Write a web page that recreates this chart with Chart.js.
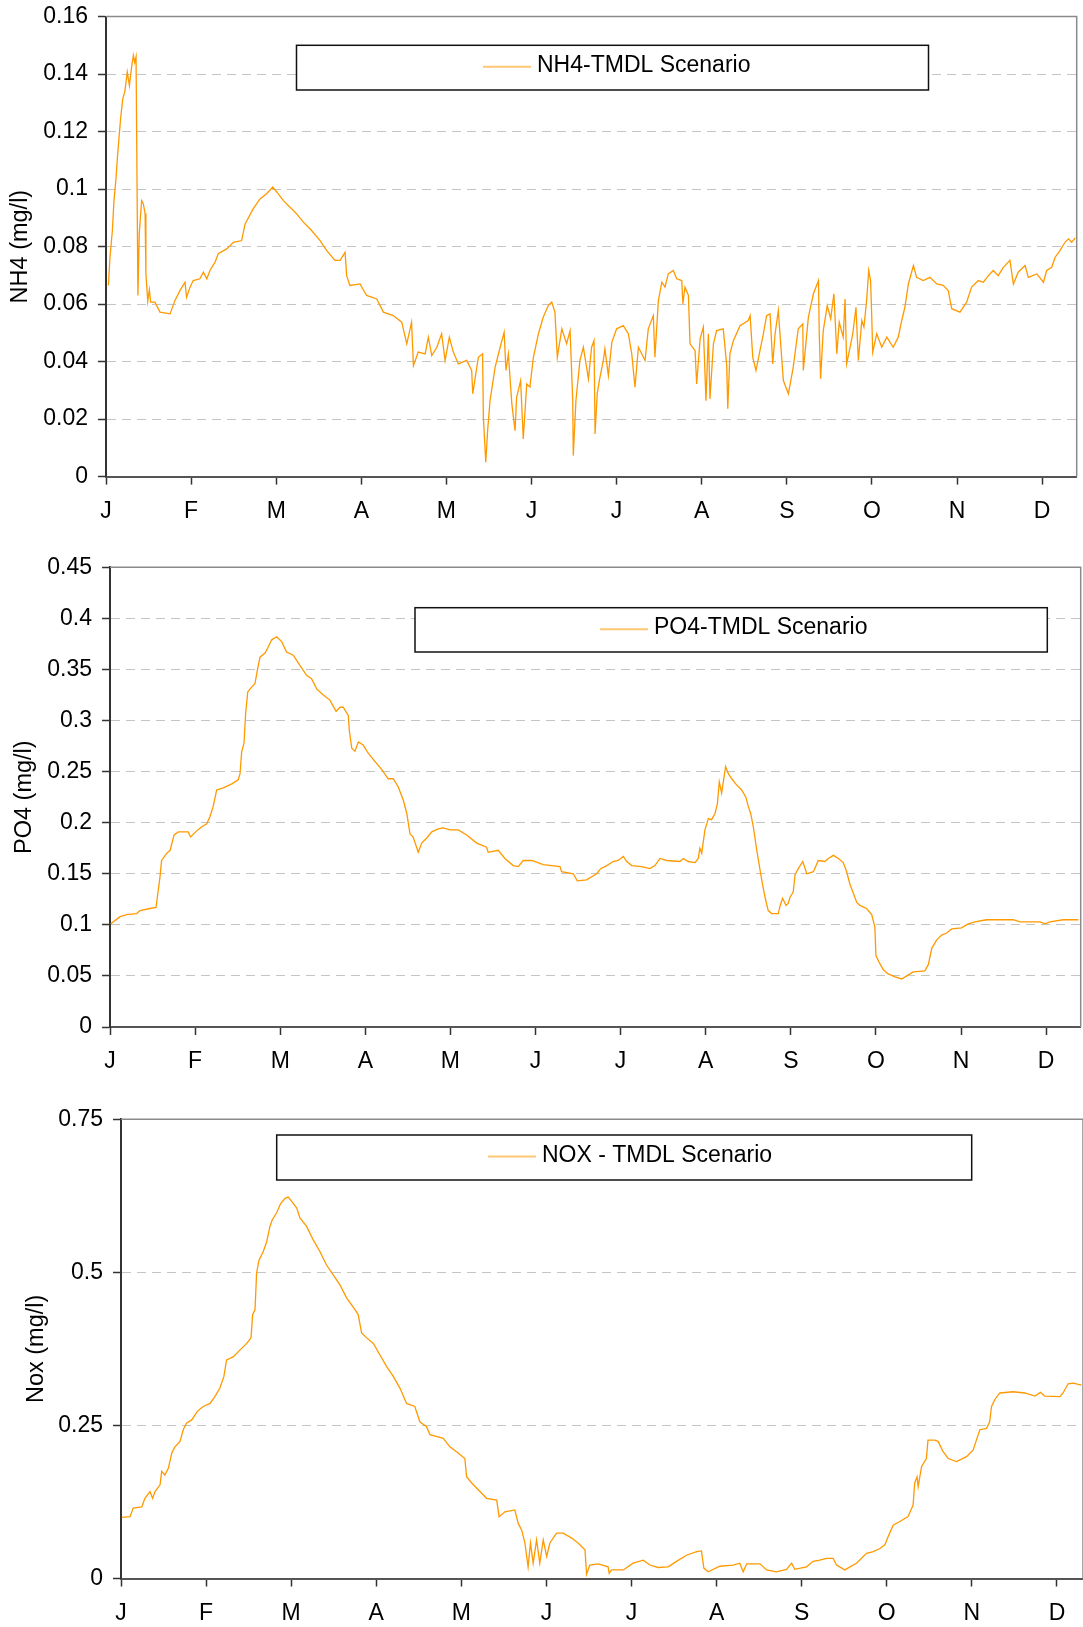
<!DOCTYPE html>
<html>
<head>
<meta charset="utf-8">
<script src="https://cdn.jsdelivr.net/npm/chart.js@4.4.1/dist/chart.umd.min.js"></script>
<style>
    html, body { margin: 0; padding: 0; background: #fff; }
    body { width: 1083px; height: 1627px; position: relative; overflow: hidden; }
    canvas { position: absolute; left: 0; }
</style>
</head>
<body>
<canvas id="chartNH4" width="1083" height="530" style="top:0"></canvas>
<canvas id="chartPO4" width="1083" height="545" style="top:535px"></canvas>
<canvas id="chartNOX" width="1083" height="537" style="top:1090px"></canvas>
<script>
// month ticks (one label every 32 days, as in the original workbook axis)
const MONTH_LABELS = ["J", "F", "M", "A", "M", "J", "J", "A", "S", "O", "N", "D"];
const MONTH_TICK_DAYS = [0, 32, 64, 96, 128, 160, 192, 224, 256, 288, 320, 352];

// NH4 (mg/l)
const NH4_TICKS = [0, 0.02, 0.04, 0.06, 0.08, 0.1, 0.12, 0.14, 0.16];
const NH4_DAYS = [0.9, 1.5, 2.4, 3.0, 3.7, 4.3, 4.9, 5.5, 6.3, 7.1,
    8.0, 8.8, 9.7, 10.3, 10.8, 11.3, 12.0, 12.5, 13.4, 14.0,
    14.7, 15.0, 15.7, 16.3, 16.8, 18.4, 20.3, 24.1, 25.9, 27.8,
    29.7, 30.3, 31.6, 32.8, 35.3, 36.6, 37.9, 39.1, 41.0, 42.2,
    45.4, 47.9, 51.0, 52.3, 55.4, 57.9, 60.4, 62.7, 64.2, 66.7,
    69.2, 71.7, 74.2, 77.3, 80.5, 83.0, 86.1, 88.0, 89.9, 90.5,
    91.7, 95.5, 98.0, 101.8, 104.3, 108.0, 111.2, 113.1, 114.9, 115.6,
    117.4, 120.0, 121.2, 122.5, 124.4, 126.2, 127.5, 129.1, 130.6, 132.5,
    135.6, 137.5, 137.9, 140.0, 141.6, 141.9, 142.8, 143.5, 144.4, 146.3,
    148.2, 149.7, 150.4, 151.3, 152.6, 153.8, 154.4, 155.9, 156.9, 158.2,
    159.4, 160.7, 162.6, 164.4, 166.3, 167.6, 168.8, 169.7, 171.4, 173.2,
    174.5, 175.5, 175.7, 176.7, 178.2, 179.5, 181.4, 182.6, 183.5, 183.9,
    184.7, 185.5, 187.0, 187.6, 188.9, 190.2, 192.0, 194.5, 196.4, 197.7,
    198.9, 200.2, 202.7, 203.9, 205.8, 206.4, 207.7, 209.0, 210.2, 211.4,
    213.3, 214.6, 216.5, 216.9, 217.7, 219.0, 219.6, 221.5, 222.1, 223.4,
    224.6, 225.6, 226.5, 227.1, 228.4, 229.6, 232.1, 233.4, 233.8, 234.6,
    235.9, 238.4, 241.5, 242.2, 243.2, 244.4, 245.9, 247.2, 248.4, 249.7,
    250.7, 251.6, 252.8, 254.1, 254.7, 256.6, 258.4, 260.3, 262.0, 262.2,
    264.1, 266.0, 267.9, 268.2, 268.7, 269.7, 271.2, 272.5, 273.7, 274.8,
    275.7, 277.2, 277.9, 278.5, 279.8, 280.8, 282.0, 282.9, 284.2, 285.0,
    286.0, 286.8, 287.5, 287.9, 288.3, 289.8, 291.7, 293.6, 296.0, 297.9,
    299.2, 300.4, 301.7, 303.6, 304.8, 307.3, 309.8, 312.4, 314.8, 316.7,
    318.0, 321.1, 323.6, 325.5, 328.0, 329.9, 331.8, 333.6, 335.5, 337.4,
    339.9, 341.2, 343.0, 345.6, 346.8, 350.0, 352.5, 353.7, 355.6, 356.9,
    358.7, 360.6, 361.9, 363.1, 364.4];
const NH4_VALUES = [0.0665, 0.0763, 0.0856, 0.096, 0.103, 0.111, 0.118, 0.1246, 0.1314, 0.134,
    0.1407, 0.136, 0.143, 0.1465, 0.144, 0.146, 0.063, 0.0845, 0.096, 0.095,
    0.0915, 0.0706, 0.061, 0.065, 0.0607, 0.0607, 0.0572, 0.0566, 0.0612, 0.0647,
    0.0676, 0.0624, 0.0659, 0.0682, 0.0688, 0.0711, 0.0688, 0.0717, 0.0746, 0.0775,
    0.0792, 0.0815, 0.0821, 0.0879, 0.0932, 0.0966, 0.0984, 0.1007, 0.099, 0.096,
    0.0937, 0.0914, 0.0885, 0.0856, 0.0821, 0.0786, 0.0752, 0.0752, 0.078, 0.0699,
    0.0665, 0.067, 0.063, 0.0618, 0.0572, 0.056, 0.0537, 0.0462, 0.0537, 0.0386,
    0.0433, 0.0427, 0.0485, 0.0421, 0.045, 0.0497, 0.0404, 0.0485, 0.0433, 0.0392,
    0.0404, 0.0369, 0.0288, 0.0415, 0.0427, 0.0206, 0.005, 0.016, 0.0264, 0.038,
    0.045, 0.0502, 0.0369, 0.0427, 0.0253, 0.016, 0.0276, 0.0334, 0.0131, 0.0322,
    0.0311, 0.0415, 0.0497, 0.0554, 0.0595, 0.0607, 0.0572, 0.0415, 0.0514, 0.0462,
    0.0508, 0.0264, 0.0073, 0.0264, 0.0404, 0.045, 0.034, 0.045, 0.0473, 0.0148,
    0.0288, 0.0334, 0.0404, 0.0444, 0.0351, 0.0467, 0.0514, 0.0525, 0.0497, 0.0427,
    0.0311, 0.045, 0.0404, 0.0514, 0.056, 0.0415, 0.0612, 0.0676, 0.0659, 0.0705,
    0.0717, 0.0688, 0.0682, 0.0601, 0.0659, 0.063, 0.0462, 0.0438, 0.0322, 0.0479,
    0.052, 0.0264, 0.0497, 0.027, 0.0462, 0.0508, 0.0514, 0.0386, 0.0236, 0.0427,
    0.0473, 0.0525, 0.0543, 0.056, 0.0415, 0.0369, 0.0438, 0.0497, 0.056, 0.0566,
    0.0392, 0.0497, 0.0578, 0.041, 0.0334, 0.0288, 0.038, 0.0514, 0.0531, 0.0369,
    0.0554, 0.0636, 0.0682, 0.0497, 0.034, 0.0508, 0.0595, 0.0549, 0.0636, 0.0427,
    0.0537, 0.0485, 0.0618, 0.0392, 0.045, 0.0497, 0.0589, 0.0404, 0.0543, 0.052,
    0.0612, 0.0717, 0.0682, 0.0566, 0.0433, 0.0497, 0.045, 0.0485, 0.045, 0.0485,
    0.0543, 0.0589, 0.067, 0.0734, 0.0693, 0.0682, 0.0693, 0.067, 0.0665, 0.0647,
    0.0584, 0.0572, 0.0607, 0.0659, 0.0682, 0.0676, 0.0699, 0.0717, 0.0699, 0.0728,
    0.0752, 0.067, 0.0711, 0.0734, 0.0693, 0.0705, 0.0676, 0.0717, 0.0728, 0.0763,
    0.0786, 0.0815, 0.0827, 0.0815, 0.083];

// PO4 (mg/l)
const PO4_TICKS = [0, 0.05, 0.1, 0.15, 0.2, 0.25, 0.3, 0.35, 0.4, 0.45];
const PO4_DAYS = [0.3, 3.8, 6.3, 10.0, 11.3, 15.0, 17.3, 17.8, 18.8, 19.4,
    21.3, 22.6, 24.1, 25.7, 29.4, 30.3, 32.6, 34.5, 36.4, 37.6,
    38.8, 40.1, 42.6, 45.8, 48.2, 48.9, 49.5, 50.4, 51.0, 51.8,
    53.3, 54.5, 55.4, 56.4, 58.3, 59.5, 60.8, 62.7, 64.6, 66.4,
    68.9, 71.4, 74.0, 75.8, 77.7, 80.2, 82.7, 85.0, 86.5, 87.7,
    89.6, 90.0, 90.9, 92.1, 93.4, 95.2, 97.1, 99.6, 102.2, 104.6,
    106.5, 108.4, 110.3, 111.6, 112.8, 114.0, 115.9, 117.2, 119.1, 121.0,
    123.4, 125.3, 127.8, 131.0, 134.1, 137.9, 141.6, 142.2, 146.0, 148.5,
    151.6, 153.5, 155.4, 158.6, 162.9, 169.2, 169.8, 174.2, 175.7, 179.2,
    183.0, 184.5, 186.8, 189.2, 191.1, 193.0, 194.3, 196.2, 199.9, 203.0,
    204.9, 206.8, 209.3, 214.3, 215.6, 217.4, 220.0, 221.2, 221.8, 222.5,
    223.7, 225.0, 226.2, 227.5, 228.4, 229.1, 230.0, 230.9, 231.5, 232.5,
    233.8, 235.6, 237.5, 239.1, 240.0, 240.9, 241.9, 243.2, 244.4, 245.4,
    246.3, 247.5, 248.8, 251.3, 251.9, 252.9, 254.2, 255.0, 255.7, 256.9,
    257.6, 258.8, 260.5, 262.0, 264.5, 266.3, 268.8, 270.1, 272.0, 273.9,
    275.7, 277.0, 278.2, 279.5, 280.8, 282.0, 284.5, 286.4, 287.6, 288.0,
    289.5, 290.8, 292.6, 295.2, 297.7, 300.2, 302.0, 306.4, 307.7, 309.0,
    310.8, 312.7, 314.6, 316.5, 320.2, 322.7, 325.2, 329.6, 339.6, 342.2,
    349.7, 351.6, 353.4, 358.4, 364.1];
const PO4_VALUES = [0.101, 0.108, 0.11, 0.111, 0.114, 0.116, 0.117, 0.127, 0.147, 0.163,
    0.17, 0.173, 0.188, 0.191, 0.191, 0.186, 0.192, 0.196, 0.199, 0.206,
    0.216, 0.232, 0.234, 0.238, 0.242, 0.248, 0.269, 0.278, 0.307, 0.328,
    0.333, 0.336, 0.349, 0.362, 0.366, 0.372, 0.379, 0.382, 0.377, 0.367,
    0.364, 0.354, 0.344, 0.341, 0.331, 0.325, 0.32, 0.309, 0.313, 0.313,
    0.305, 0.29, 0.273, 0.27, 0.279, 0.276, 0.268, 0.26, 0.252, 0.243,
    0.243, 0.235, 0.222, 0.209, 0.189, 0.186, 0.171, 0.18, 0.185, 0.191,
    0.194, 0.195, 0.193, 0.193, 0.188, 0.18, 0.176, 0.171, 0.173, 0.165,
    0.158, 0.157, 0.163, 0.163, 0.159, 0.157, 0.152, 0.15, 0.143, 0.144,
    0.15, 0.155, 0.158, 0.162, 0.163, 0.167, 0.162, 0.158, 0.157, 0.155,
    0.158, 0.165, 0.163, 0.162, 0.165, 0.162, 0.161, 0.165, 0.175, 0.17,
    0.193, 0.204, 0.203, 0.209, 0.219, 0.24, 0.229, 0.245, 0.255, 0.248,
    0.243, 0.237, 0.232, 0.225, 0.216, 0.209, 0.196, 0.173, 0.154, 0.139,
    0.127, 0.114, 0.111, 0.111, 0.118, 0.126, 0.119, 0.121, 0.127, 0.132,
    0.149, 0.155, 0.162, 0.15, 0.152, 0.163, 0.162, 0.165, 0.168, 0.165,
    0.161, 0.152, 0.14, 0.131, 0.122, 0.119, 0.116, 0.11, 0.098, 0.07,
    0.062, 0.056, 0.052, 0.049, 0.047, 0.051, 0.054, 0.055, 0.061, 0.077,
    0.085, 0.09, 0.092, 0.096, 0.097, 0.101, 0.103, 0.105, 0.105, 0.103,
    0.103, 0.101, 0.103, 0.105, 0.105];

// NOX (mg/l)
const NOX_TICKS = [0, 0.25, 0.5, 0.75];
const NOX_DAYS = [0.3, 3.4, 4.6, 7.8, 9.0, 10.9, 11.9, 12.8, 14.7, 15.3,
    16.5, 17.8, 19.1, 20.3, 22.2, 23.4, 24.7, 26.6, 28.7, 30.9,
    33.5, 35.3, 37.2, 38.7, 39.7, 42.2, 44.7, 47.3, 48.9, 49.5,
    50.4, 51.0, 51.9, 53.5, 54.8, 56.0, 56.9, 58.5, 60.0, 61.7,
    62.9, 64.2, 66.1, 67.3, 69.8, 72.3, 74.8, 77.3, 79.8, 82.3,
    84.9, 88.0, 89.2, 90.5, 92.4, 94.9, 97.4, 99.9, 102.4, 104.9,
    107.4, 110.5, 112.4, 114.9, 116.2, 121.2, 123.7, 126.8, 129.3, 130.0,
    131.9, 135.0, 137.5, 141.3, 142.2, 144.4, 148.1, 149.4, 150.7, 151.9,
    153.1, 154.0, 155.0, 156.3, 157.5, 158.8, 160.1, 161.3, 163.8, 166.3,
    169.5, 171.9, 174.5, 175.1, 176.3, 179.5, 183.2, 183.6, 184.5, 188.9,
    192.6, 196.4, 198.9, 202.0, 205.8, 208.9, 212.7, 216.5, 218.3, 219.2,
    220.8, 225.2, 230.2, 232.7, 234.0, 235.3, 240.3, 242.8, 246.5, 250.3,
    252.2, 253.4, 257.8, 260.3, 262.8, 265.3, 267.8, 269.1, 272.2, 276.6,
    280.4, 282.9, 285.4, 287.3, 288.5, 290.4, 292.9, 296.0, 297.9, 298.5,
    299.4, 299.8, 301.1, 302.9, 303.5, 306.1, 307.3, 309.2, 311.1, 314.2,
    318.0, 320.5, 321.7, 323.0, 325.5, 326.7, 327.4, 328.6, 330.5, 335.5,
    339.9, 343.7, 345.8, 347.4, 353.1, 354.3, 356.2, 358.1, 361.2];
const NOX_VALUES = [0.1, 0.101, 0.115, 0.117, 0.131, 0.142, 0.131, 0.142, 0.153, 0.175,
    0.169, 0.18, 0.205, 0.215, 0.224, 0.243, 0.254, 0.259, 0.273, 0.281,
    0.286, 0.297, 0.311, 0.33, 0.357, 0.362, 0.373, 0.384, 0.393, 0.431,
    0.439, 0.499, 0.52, 0.534, 0.55, 0.575, 0.586, 0.597, 0.612, 0.621,
    0.623, 0.616, 0.605, 0.589, 0.575, 0.553, 0.534, 0.512, 0.496, 0.48,
    0.458, 0.439, 0.431, 0.401, 0.393, 0.384, 0.365, 0.346, 0.33, 0.311,
    0.286, 0.281, 0.256, 0.248, 0.235, 0.229, 0.215, 0.205, 0.196, 0.166,
    0.156, 0.142, 0.131, 0.128, 0.101, 0.109, 0.112, 0.09, 0.079, 0.058,
    0.019, 0.058, 0.025, 0.063, 0.025, 0.063, 0.036, 0.058, 0.074, 0.074,
    0.066, 0.058, 0.047, 0.007, 0.022, 0.024, 0.019, 0.0085, 0.014, 0.014,
    0.025, 0.03, 0.022, 0.018, 0.019, 0.028, 0.038, 0.044, 0.045, 0.017,
    0.011, 0.02, 0.022, 0.025, 0.011, 0.024, 0.024, 0.014, 0.011, 0.015,
    0.025, 0.015, 0.019, 0.028, 0.03, 0.033, 0.033, 0.022, 0.014, 0.025,
    0.041, 0.044, 0.049, 0.055, 0.068, 0.087, 0.093, 0.101, 0.12, 0.156,
    0.166, 0.15, 0.183, 0.196, 0.226, 0.226, 0.224, 0.207, 0.196, 0.191,
    0.199, 0.21, 0.226, 0.243, 0.245, 0.256, 0.281, 0.292, 0.303, 0.305,
    0.303, 0.298, 0.304, 0.298, 0.297, 0.303, 0.318, 0.319, 0.316];

const LINE_COLOR = "#FF9900";
const FONT_FAMILY = "'Liberation Sans', Arial, Helvetica, sans-serif";

Chart.defaults.font.family = FONT_FAMILY;
Chart.defaults.color = "#000";

// grey frame on the top and right of the plot area
const plotFrame = {
    id: "plotFrame",
    beforeDatasetsDraw(chart) {
        const {ctx, chartArea: a} = chart;
        ctx.save();
        ctx.strokeStyle = "#8a8a8a";
        ctx.lineWidth = 1.5;
        ctx.beginPath();
        ctx.moveTo(a.left, a.top);
        ctx.lineTo(a.right, a.top);
        ctx.lineTo(a.right, a.bottom);
        ctx.stroke();
        ctx.restore();
    }
};

// boxed legend sitting inside the plot
const boxLegend = {
    id: "boxLegend",
    afterDraw(chart, args, opts) {
        const {ctx} = chart;
        const label = chart.data.datasets[0].label;
        ctx.save();
        ctx.fillStyle = "#fff";
        ctx.fillRect(opts.x, opts.y, opts.w, opts.h);
        ctx.strokeStyle = "#111";
        ctx.lineWidth = 1.5;
        ctx.strokeRect(opts.x, opts.y, opts.w, opts.h);
        ctx.strokeStyle = "rgba(255,153,0,0.55)";
        ctx.lineWidth = 2;
        ctx.beginPath();
        ctx.moveTo(opts.lineX, opts.y + 21.5);
        ctx.lineTo(opts.lineX + 48, opts.y + 21.5);
        ctx.stroke();
        ctx.fillStyle = "#000";
        ctx.font = "23px " + FONT_FAMILY;
        ctx.textBaseline = "alphabetic";
        ctx.textAlign = "left";
        ctx.fillText(label, opts.lineX + 54, opts.y + 26.5);
        ctx.restore();
    }
};

function makeChart(id, c) {
    const points = c.days.map((d, i) => ({x: d, y: c.values[i]}));
    return new Chart(document.getElementById(id), {
        type: "line",
        data: {
            datasets: [{
                label: c.label,
                data: points,
                borderColor: LINE_COLOR,
                borderWidth: 1.3,
                pointRadius: 0,
                tension: 0,
                fill: false
            }]
        },
        plugins: [plotFrame, boxLegend],
        options: {
            responsive: false,
            animation: false,
            devicePixelRatio: 1,
            layout: {padding: {top: c.padTop, right: c.padRight, left: 0, bottom: 0}},
            plugins: {
                legend: {display: false},
                tooltip: {enabled: false},
                boxLegend: c.legend
            },
            scales: {
                x: {
                    type: "linear",
                    min: 0,
                    max: c.xMax,
                    afterBuildTicks: (scale) => {
                        scale.ticks = MONTH_TICK_DAYS.map(v => ({value: v}));
                    },
                    afterFit: (scale) => {
                        scale.height = c.xHeight;
                        scale.paddingLeft = 0;
                        scale.paddingRight = 0;
                    },
                    ticks: {
                        autoSkip: false,
                        maxRotation: 0,
                        padding: 13,
                        font: {size: 23},
                        callback: (value, index) => MONTH_LABELS[index]
                    },
                    grid: {
                        drawOnChartArea: false,
                        drawTicks: true,
                        tickLength: 8,
                        tickColor: "#333",
                        tickWidth: 1.5
                    },
                    border: {display: true, color: "#555", width: 2}
                },
                y: {
                    type: "linear",
                    min: 0,
                    max: c.yTicks[c.yTicks.length - 1],
                    afterBuildTicks: (scale) => {
                        scale.ticks = c.yTicks.map(v => ({value: v}));
                    },
                    afterFit: (scale) => {
                        scale.width = c.axisLeft;
                        scale.paddingTop = 0;
                        scale.paddingBottom = 0;
                    },
                    ticks: {
                        padding: 10,
                        font: {size: 23},
                        callback: (value) => String(value)
                    },
                    grid: {
                        color: "#c4c4c4",
                        lineWidth: 1,
                        drawTicks: true,
                        tickLength: 8,
                        tickColor: "#333",
                        tickWidth: 1.5
                    },
                    border: {display: true, color: "#333", width: 2, dash: [9, 6]},
                    title: {
                        display: true,
                        text: c.yTitle,
                        font: {size: 23.5},
                        padding: {top: c.titlePad, bottom: 0}
                    }
                }
            }
        }
    });
}

makeChart("chartNH4", {
    days: NH4_DAYS, values: NH4_VALUES, yTicks: NH4_TICKS,
    label: "NH4-TMDL Scenario", yTitle: "NH4 (mg/l)",
    xMax: 365, axisLeft: 106, padTop: 16.6, padRight: 6.3, xHeight: 53.4, titlePad: 6.6,
    legend: {x: 296.5, y: 45.3, w: 632, h: 44.7, lineX: 483}
});

makeChart("chartPO4", {
    days: PO4_DAYS, values: PO4_VALUES, yTicks: PO4_TICKS,
    label: "PO4-TMDL Scenario", yTitle: "PO4 (mg/l)",
    xMax: 365, axisLeft: 110, padTop: 32.3, padRight: 2.3, xHeight: 53, titlePad: 10.8,
    legend: {x: 415, y: 72.7, w: 632.3, h: 44.3, lineX: 600}
});

makeChart("chartNOX", {
    days: NOX_DAYS, values: NOX_VALUES, yTicks: NOX_TICKS,
    label: "NOX - TMDL Scenario", yTitle: "Nox (mg/l)",
    xMax: 361.8, axisLeft: 121, padTop: 29.3, padRight: 0, xHeight: 48.5, titlePad: 22.2,
    legend: {x: 276.7, y: 45, w: 695, h: 45, lineX: 488}
});
</script>
</body>
</html>
